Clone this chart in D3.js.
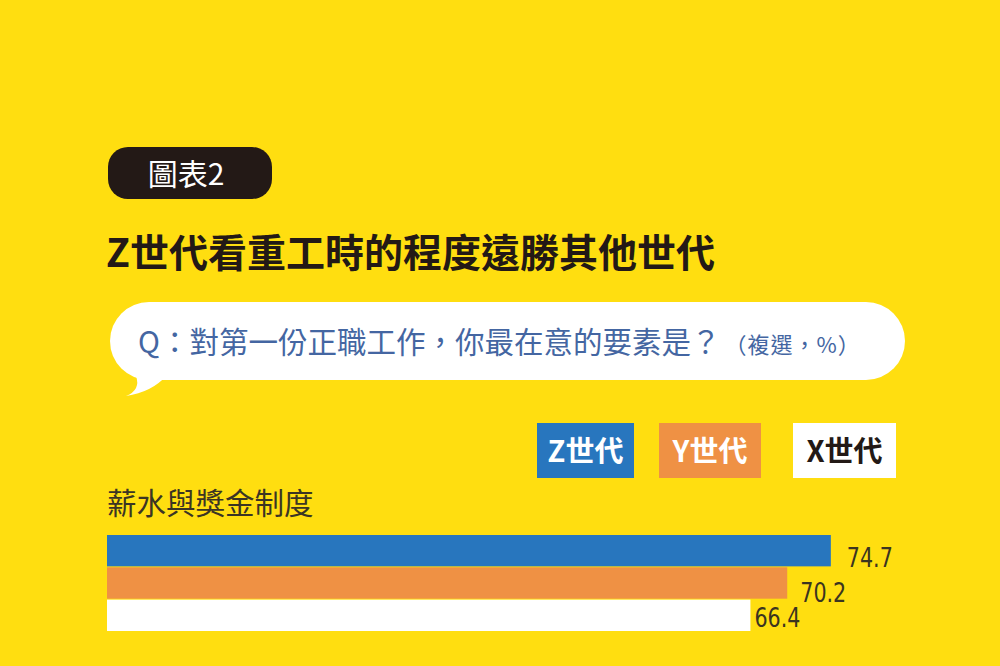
<!DOCTYPE html>
<html>
<head>
<meta charset="utf-8">
<script src="https://cdn.jsdelivr.net/npm/d3@7"></script>
<style>
  html, body { margin: 0; padding: 0; background: #FFDE10; }
  svg { display: block; }
</style>
</head>
<body>
<svg id="chart" width="1000" height="666"></svg>
<script>
// ---- data ----
const badgeText = "圖表2";
const titleText = "Z世代看重工時的程度遠勝其他世代";
const questionText = "Q：對第一份正職工作，你最在意的要素是？";
const questionNote = "（複選，%）";
const series = ["Z世代", "Y世代", "X世代"];
const categories = ["薪水與獎金制度"];
const values = {
  "Z世代": [74.7],
  "Y世代": [70.2],
  "X世代": [66.4]
};

// ---- style ----
const colors = { "Z世代": "#2876BE", "Y世代": "#EF9144", "X世代": "#FFFFFF" };
const legendText = { "Z世代": "#FFFFFF", "Y世代": "#FFFFFF", "X世代": "#231916" };
const labelOffset = { "Z世代": 16, "Y世代": 13, "X世代": 4 };
const labelDy = { "Z世代": 16, "Y世代": 19, "X世代": 12 };
const cjk = "'Noto Sans CJK TC', 'Noto Sans CJK SC', sans-serif";
const numFont = "'DejaVu Sans', sans-serif";

const svg = d3.select("#chart");
svg.append("rect").attr("width", 1000).attr("height", 666).attr("fill", "#FFDE10");

// badge
svg.append("rect").attr("x", 108).attr("y", 147).attr("width", 164).attr("height", 52)
  .attr("rx", 20).attr("fill", "#231916");
svg.append("text").attr("x", 186).attr("y", 185).attr("text-anchor", "middle")
  .attr("font-family", cjk).attr("font-size", 30).attr("font-weight", 400)
  .attr("fill", "#FFFFFF").text(badgeText);

// title
svg.append("text").attr("x", 106).attr("y", 267)
  .attr("font-family", cjk).attr("font-size", 39).attr("font-weight", 700)
  .attr("fill", "#231916").text(titleText);

// speech bubble
svg.append("rect").attr("x", 110).attr("y", 302).attr("width", 795).attr("height", 78)
  .attr("rx", 39).attr("fill", "#FFFFFF");
svg.append("path").attr("d", "M 136 376 Q 141 390 126 396 Q 152 392 166 376 Z")
  .attr("fill", "#FFFFFF");
const q = svg.append("text").attr("x", 138).attr("y", 353)
  .attr("font-family", cjk).attr("fill", "#4466A2");
q.append("tspan").attr("font-size", 29.5).text(questionText);
q.append("tspan").attr("font-size", 22).attr("dx", 4).attr("letter-spacing", 1).text(questionNote);

// legend
const legendBoxes = [
  { s: "Z世代", x: 537, w: 97 },
  { s: "Y世代", x: 659, w: 102 },
  { s: "X世代", x: 793, w: 103 }
];
const lg = svg.append("g");
lg.selectAll("rect").data(legendBoxes).join("rect")
  .attr("x", d => d.x).attr("y", 423).attr("width", d => d.w).attr("height", 55)
  .attr("fill", d => colors[d.s]);
lg.selectAll("text").data(legendBoxes).join("text")
  .attr("x", d => d.x + d.w / 2).attr("y", 462).attr("text-anchor", "middle")
  .attr("font-family", cjk).attr("font-size", 29).attr("font-weight", 700)
  .attr("fill", d => legendText[d.s]).text(d => d.s);

// scales
const x = d3.scaleLinear().domain([0, 100]).range([107, 1076]);
const catTop = 535, catStep = 160;

categories.forEach((cat, ci) => {
  const top = catTop + ci * catStep;
  const y = d3.scaleBand().domain(series).range([top, top + 96]).paddingInner(0.03);
  svg.append("text").attr("x", 107).attr("y", top - 21)
    .attr("font-family", cjk).attr("font-size", 29.5).attr("font-weight", 400)
    .attr("fill", "#3B3524").text(cat);
  const g = svg.append("g");
  g.selectAll("rect").data(series).join("rect")
    .attr("x", x(0)).attr("y", s => y(s))
    .attr("width", s => x(values[s][ci]) - x(0))
    .attr("height", y.bandwidth())
    .attr("fill", s => colors[s]);
  g.selectAll("text").data(series).join("text")
    .attr("x", s => x(values[s][ci]) + labelOffset[s])
    .attr("y", s => y(s) + y.bandwidth() / 2 + labelDy[s])
    .attr("font-family", numFont).attr("font-size", 27)
    .attr("textLength", 46).attr("lengthAdjust", "spacingAndGlyphs")
    .attr("fill", "#3B3420").text(s => values[s][ci].toFixed(1));
});
</script>
</body>
</html>
